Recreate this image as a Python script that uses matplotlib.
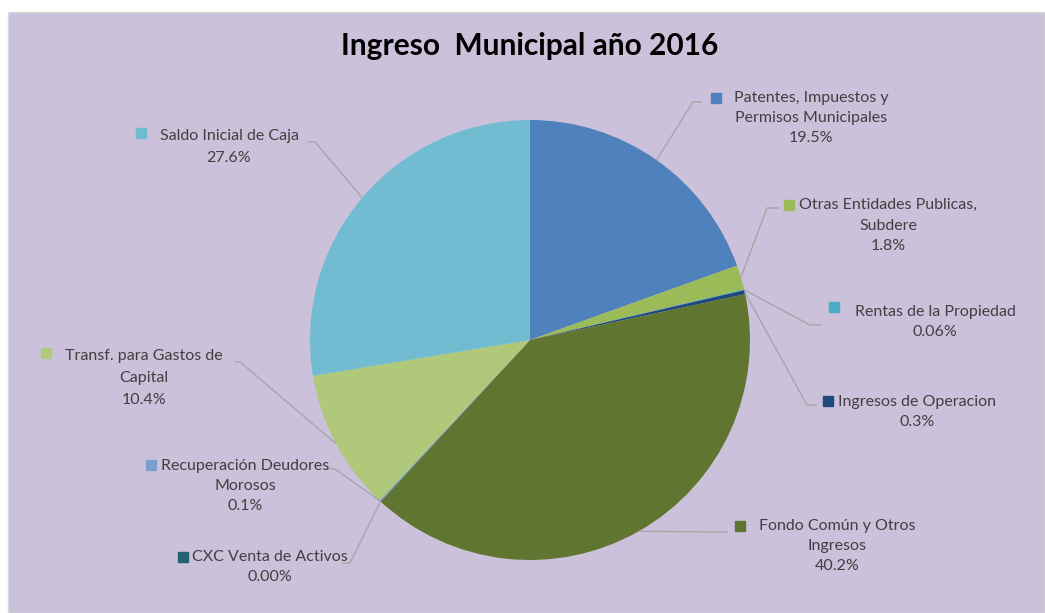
import numpy as np
import matplotlib.pyplot as plt
from matplotlib.patches import Rectangle

# data
labels = ['Patentes, Impuestos y\nPermisos Municipales',
          'Otras Entidades Publicas,\nSubdere',
          'Rentas de la Propiedad',
          'Ingresos de Operacion',
          'Fondo Común y Otros\nIngresos',
          'CXC Venta de Activos',
          'Recuperación Deudores\nMorosos',
          'Transf. para Gastos de\nCapital',
          'Saldo Inicial de Caja']
values = [19.5, 1.8, 0.06, 0.3, 40.2, 0.004, 0.1, 10.4, 27.6]
pct_text = ['19.5%', '1.8%', '0.06%', '0.3%', '40.2%', '0.00%', '0.1%', '10.4%', '27.6%']
colors = ['#4F81BD', '#9BBB59', '#4BACC6', '#1F497D', '#5F7530',
          '#22636F', '#7A9FCF', '#AFC87A', '#72BCD1']

W, H = 1045, 613
cx, cy, R = 530, 340, 220  # image pixels (y down)

# label layout in image pixels: marker (x, y), text centre x, first line y, line gap,
# leader elbow (x, y), leader end x
layout = [
    dict(mk=(716, 98), tx=811, ty=98, gap=20, elbow=(693, 102), end=702),
    dict(mk=(789, 205), tx=888, ty=205, gap=20.5, elbow=(767, 208), end=779),
    dict(mk=(834, 307), tx=935, ty=312, gap=20, elbow=(810, 325), end=822),
    dict(mk=(828, 401), tx=917, ty=402, gap=19.5, elbow=(807, 405), end=817),
    dict(mk=(740, 526), tx=837, ty=526, gap=20, elbow=(720, 532), end=728),
    dict(mk=(183, 557), tx=270, ty=557, gap=20, elbow=(350, 563), end=342),
    dict(mk=(151, 465), tx=245, ty=466, gap=20, elbow=(335, 469), end=326),
    dict(mk=(46, 353), tx=144, ty=356, gap=22, elbow=(240, 362), end=235),
    dict(mk=(141, 133), tx=229, ty=136, gap=22, elbow=(315, 142), end=308),
]

plt.rcParams['font.family'] = ['Lato', 'DejaVu Sans']

fig = plt.figure(figsize=(W / 100, H / 100), dpi=100, facecolor='white')
ax = fig.add_axes([0, 0, 1, 1])


def fy(v):
    return H - v


ax.add_patch(Rectangle((8, 0), W - 8, H - 12, facecolor='#CCC1DA',
                       edgecolor='#D9D9D9', lw=1, zorder=0))

wedges, _ = ax.pie(values, colors=colors, startangle=90, counterclock=False,
                   center=(cx, fy(cy)), radius=R, frame=True,
                   wedgeprops=dict(linewidth=0))
ax.set_xlim(0, W)
ax.set_ylim(0, H)
ax.axis('off')

total = sum(values)
cum = 0.0
for i, v in enumerate(values):
    mid = (cum + v / 2) / total * 2 * np.pi
    cum += v
    ax_x = cx + R * np.sin(mid)
    ax_y = cy - R * np.cos(mid)
    L = layout[i]
    ex, ey = L['elbow']
    ax.plot([ax_x, ex, L['end']], [fy(ax_y), fy(ey), fy(ey)],
            color='#A6A6A6', lw=1, zorder=3, solid_capstyle='butt')
    mx, my = L['mk']
    ax.plot([mx], [fy(my)], marker='s', ms=6.5, color=colors[i],
            mec=colors[i], zorder=4)
    lines = labels[i].split('\n') + [pct_text[i]]
    for k, t in enumerate(lines):
        ax.text(L['tx'], fy(L['ty'] + k * L['gap']), t, ha='center', va='center',
                fontsize=11.5, color='#404040', zorder=4)

ax.text(530, fy(46), 'Ingreso  Municipal año 2016', ha='center', va='center',
        fontsize=21.5, fontweight='bold', color='black')

fig.savefig('out.png', dpi=100, facecolor='white')
